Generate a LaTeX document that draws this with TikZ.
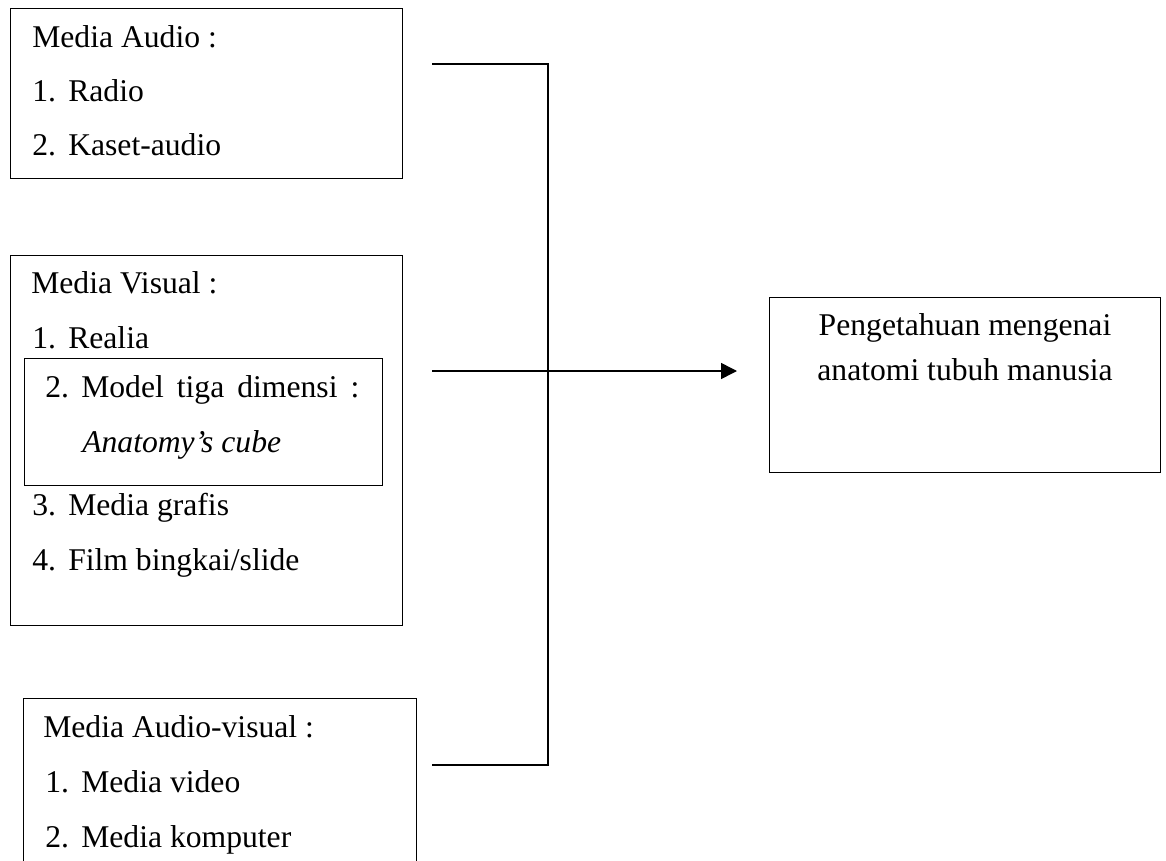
\documentclass[tikz,border=0pt]{standalone}
\usepackage{fontspec}
\setmainfont{Liberation Serif}
\usetikzlibrary{arrows.meta}

\tikzset{
  box/.style={draw, line width=0.7pt, inner sep=0, anchor=north west},
  item/.style={anchor=base west, inner sep=0, font=\fontsize{22.5pt}{27pt}\selectfont},
  link/.style={line width=1.1pt},
}
\newcommand{\num}[1]{\makebox[0.9cm][l]{#1}}

\begin{document}
\begin{tikzpicture}[x=0.025cm, y=-0.025cm]
    \clip (0,0) rectangle (1166,861);
    % kotak kiri
    \node[box, minimum width=9.8cm, minimum height=4.25cm] (audio) at (10,8) {};
    \node[item] (audio0) at (32,47) {Media Audio :};
    \node[item] (audio1) at (32,101) {\num{1.}Radio};
    \node[item] (audio2) at (32,155) {\num{2.}Kaset-audio};
    \node[box, minimum width=9.8cm, minimum height=9.25cm] (visual) at (10,255) {};
    \node[item] (visual0) at (31,293) {Media Visual :};
    \node[item] (visual1) at (32,348) {\num{1.}Realia};
    \node[box, minimum width=8.95cm, minimum height=3.175cm] (model) at (24,358) {};
    \node[item] (visual2) at (45,397) {\num{2.}\hbox to 6.95cm{Model\hfill tiga\hfill dimensi\hfill :}};
    \node[item] (cube) at (82,452) {\itshape Anatomy’s cube};
    \node[item] (visual3) at (32,515) {\num{3.}Media grafis};
    \node[item] (visual4) at (32,570) {\num{4.}Film bingkai/slide};
    \node[box, minimum width=9.825cm, minimum height=5cm] (av) at (23,698) {};
    \node[item] (av0) at (43,737) {Media Audio-visual :};
    \node[item] (av1) at (45,792) {\num{1.}Media video};
    \node[item] (av2) at (45,847) {\num{2.}Media komputer};
    % kotak kanan
    \node[box, minimum width=9.775cm, minimum height=4.375cm] (tahu) at (769,297) {};
    \node[item, anchor=base] (tahu1) at (965,335) {Pengetahuan mengenai};
    \node[item, anchor=base] (tahu2) at (965,380) {anatomi tubuh manusia};
    % garis
    \coordinate (a) at (432,64);
    \coordinate (v) at (432,371);
    \coordinate (av) at (432,765);
    \coordinate (bus) at (548,64);
    \coordinate (tip) at (737,371);
    \draw[link] (a) -- (bus) |- (av);
    \draw[link, -{Triangle[length=0.4cm, width=0.4cm]}] (v) -- (tip);
\end{tikzpicture}
\end{document}
